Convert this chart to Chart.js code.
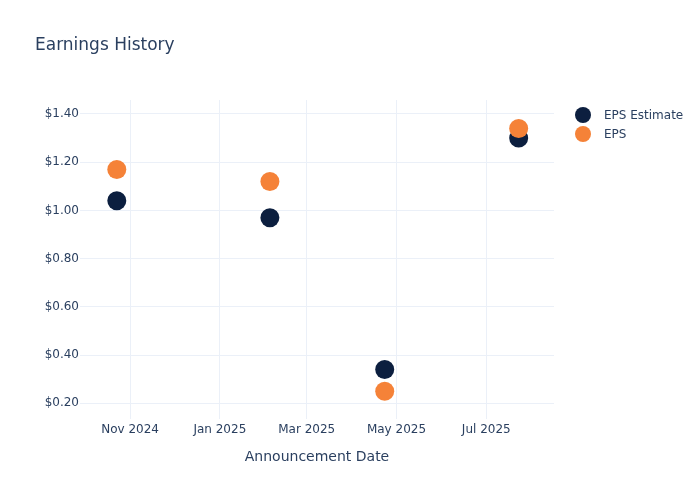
<!DOCTYPE html>
<html>
<head>
<meta charset="utf-8">
<script src="https://cdn.jsdelivr.net/npm/chart.js@4"></script>
<style>
    body { margin: 0; background: #fff; }
    #wrap { position: relative; width: 700px; height: 500px; font-family: "DejaVu Sans", sans-serif; }
    #chartTitle { position: absolute; left: 35px; top: 34px; font-size: 17px; color: #2a3f5f; }
    #EarningsLegend { position: absolute; left: 575px; top: 105px; }
    #customLegend ul { list-style: none; margin: 0; padding: 0; }
    #customLegend li { display: flex; align-items: center; height: 19px; }
    #customLegend span { display: inline-block; width: 16px; height: 16px; border-radius: 50%; margin-right: 13px; }
    #customLegend p { margin: 0; font-size: 12px; color: #2a3f5f; }
</style>
</head>
<body>
<div id="wrap">
    <canvas id="EarningsChart" width="700" height="500"></canvas>
    <div id="chartTitle">Earnings History</div>
    <div id="EarningsLegend"></div>
</div>
<script>
// announcement dates
const announceDates = ['2024-10-23', '2025-02-04', '2025-04-23', '2025-07-23'];
const epsEstimate = [1.04, 0.97, 0.34, 1.30];
const epsActual = [1.17, 1.12, 0.25, 1.34];

// x ticks (first of month) and labels
const xTickDates = ['2024-11-01', '2025-01-01', '2025-03-01', '2025-05-01', '2025-07-01'];
const xTickLabels = ['Nov 2024', 'Jan 2025', 'Mar 2025', 'May 2025', 'Jul 2025'];
const yTicks = [0.2, 0.4, 0.6, 0.8, 1.0, 1.2, 1.4];

let earningsChart;
let customLegend;

function toTime(d) {
    return new Date(d + 'T00:00:00Z').getTime();
}

// same sort of custom legend as the dashboard one
function generateLegend(locationID, chartName) {
    const location = document.getElementById(locationID);
    const div = document.createElement('DIV');
    div.setAttribute('id', 'customLegend');
    const ul = document.createElement('UL');

    chartName.data.datasets.forEach((dataset) => {
        const li = document.createElement('LI');
        const spanBox = document.createElement('SPAN');
        spanBox.style.backgroundColor = dataset.backgroundColor;
        const p = document.createElement('P');
        p.appendChild(document.createTextNode(dataset.label));
        li.appendChild(spanBox);
        li.appendChild(p);
        ul.appendChild(li);
    });

    div.appendChild(ul);
    location.appendChild(div);
    return div;
}

const ctx = document.getElementById('EarningsChart');
const tickColor = '#2a3f5f';
const gridColor = '#ebf0f8';

earningsChart = new Chart(ctx, {
    type: 'scatter',
    data: {
        datasets: [
            {
                label: 'EPS Estimate',
                data: announceDates.map((d, i) => ({ x: toTime(d), y: epsEstimate[i] })),
                backgroundColor: '#0c1f3f',
                borderWidth: 0,
                pointRadius: 9.5,
                pointHoverRadius: 9.5,
                order: 1
            },
            {
                label: 'EPS',
                data: announceDates.map((d, i) => ({ x: toTime(d), y: epsActual[i] })),
                backgroundColor: '#f58238',
                borderWidth: 0,
                pointRadius: 9.5,
                pointHoverRadius: 9.5,
                order: 0
            }
        ]
    },
    options: {
        responsive: false,
        animation: false,
        layout: { padding: { left: 0, top: 100, right: 146, bottom: 0 } },
        scales: {
            x: {
                type: 'linear',
                min: toTime('2024-09-28'),
                max: toTime('2025-08-16'),
                afterFit: (scale) => { scale.height = 81; },
                afterBuildTicks: (scale) => {
                    scale.ticks = xTickDates.map(d => ({ value: toTime(d) }));
                },
                ticks: {
                    padding: 4,
                    color: tickColor,
                    font: { family: 'DejaVu Sans', size: 12 },
                    maxRotation: 0,
                    callback: (value, index) => xTickLabels[index]
                },
                grid: { color: gridColor, drawTicks: false },
                border: { display: false },
                title: {
                    display: true,
                    text: 'Announcement Date',
                    color: tickColor,
                    font: { family: 'DejaVu Sans', size: 14 },
                    padding: { top: 0, bottom: 34 }
                }
            },
            y: {
                min: 0.135,
                max: 1.458,
                afterFit: (scale) => { scale.width = 80; },
                afterBuildTicks: (scale) => {
                    scale.ticks = yTicks.map(v => ({ value: v }));
                },
                ticks: {
                    padding: 1,
                    color: tickColor,
                    font: { family: 'DejaVu Sans', size: 12 },
                    callback: (value) => '$' + value.toFixed(2)
                },
                grid: { color: gridColor, drawTicks: false },
                border: { display: false }
            }
        },
        plugins: {
            legend: { display: false },
            tooltip: { enabled: false }
        }
    }
});

customLegend = generateLegend('EarningsLegend', earningsChart);
</script>
</body>
</html>
